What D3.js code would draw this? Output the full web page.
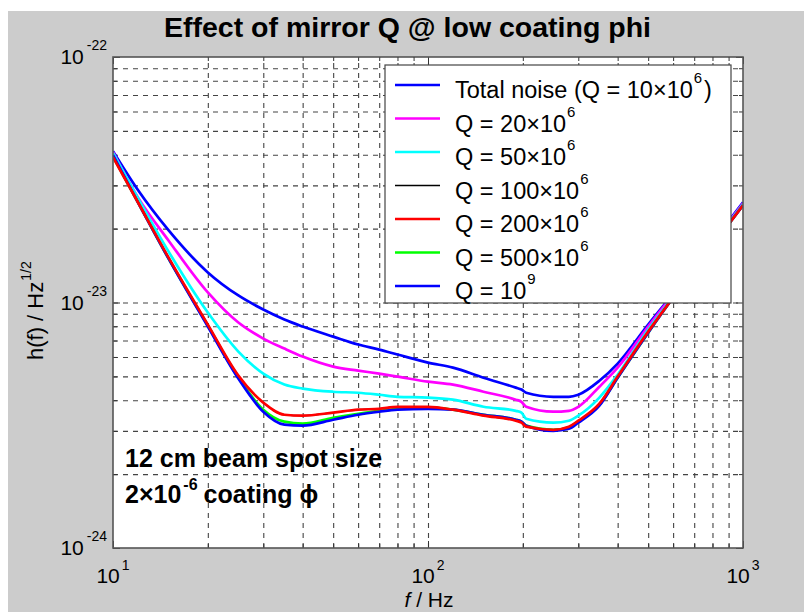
<!DOCTYPE html>
<html><head><meta charset="utf-8">
<script src="https://cdn.jsdelivr.net/npm/d3@7"></script>
<style>
body{margin:0;background:#fff}
svg{display:block}
text{font-family:"Liberation Sans",Arial,Helvetica,sans-serif;fill:#000}
</style></head>
<body><svg id="c" width="804" height="612"></svg>
<script>
// ---------- data ----------
const freq = [10,12,15,20,25,30,35,40,50,60,70,80,100,120,150,190,198,205,250,280,300,350,400,500,600,700,800,1000];
const totalNoise = [4.13e-23,2.87e-23,1.97e-23,1.326e-23,1.068e-23,9.36e-24,8.52e-24,7.98e-24,7.26e-24,6.74e-24,6.43e-24,6.14e-24,5.69e-24,5.43e-24,4.94e-24,4.50e-24,4.42e-24,4.29e-24,4.13e-24,4.13e-24,4.21e-24,4.80e-24,5.64e-24,8.13e-24,1.088e-23,1.403e-23,1.758e-23,2.56e-23];
const q20 = [4.10e-23,2.68e-23,1.79e-23,1.099e-23,8.29e-24,7.13e-24,6.49e-24,6.02e-24,5.48e-24,5.28e-24,5.13e-24,4.99e-24,4.76e-24,4.63e-24,4.33e-24,4.02e-24,3.94e-24,3.76e-24,3.59e-24,3.62e-24,3.76e-24,4.54e-24,5.43e-24,7.98e-24,1.078e-23,1.39e-23,1.741e-23,2.536e-23];
const q50 = [4.06e-23,2.66e-23,1.615e-23,9.10e-24,6.31e-24,5.13e-24,4.63e-24,4.46e-24,4.33e-24,4.29e-24,4.21e-24,4.13e-24,4.10e-24,4.02e-24,3.76e-24,3.62e-24,3.56e-24,3.36e-24,3.24e-24,3.30e-24,3.46e-24,4.10e-24,5.08e-24,7.76e-24,1.058e-23,1.377e-23,1.725e-23,2.512e-23];
const q100 = [3.91e-23,2.56e-23,1.527e-23,8.13e-24,5.04e-24,3.91e-24,3.49e-24,3.46e-24,3.56e-24,3.66e-24,3.69e-24,3.76e-24,3.76e-24,3.66e-24,3.46e-24,3.30e-24,3.24e-24,3.12e-24,3.03e-24,3.12e-24,3.30e-24,3.87e-24,4.99e-24,7.61e-24,1.048e-23,1.364e-23,1.709e-23,2.488e-23];
const q200 = [3.91e-23,2.56e-23,1.527e-23,8.13e-24,5.04e-24,3.91e-24,3.49e-24,3.46e-24,3.56e-24,3.66e-24,3.69e-24,3.76e-24,3.76e-24,3.66e-24,3.46e-24,3.30e-24,3.24e-24,3.12e-24,3.03e-24,3.12e-24,3.30e-24,3.87e-24,4.99e-24,7.61e-24,1.048e-23,1.364e-23,1.709e-23,2.488e-23];
const q500 = [3.94e-23,2.56e-23,1.512e-23,8.06e-24,4.94e-24,3.66e-24,3.27e-24,3.21e-24,3.39e-24,3.52e-24,3.62e-24,3.69e-24,3.73e-24,3.66e-24,3.49e-24,3.33e-24,3.27e-24,3.15e-24,3.03e-24,3.09e-24,3.27e-24,3.83e-24,4.94e-24,7.54e-24,1.048e-23,1.364e-23,1.709e-23,2.488e-23];
const q1e9 = [3.98e-23,2.56e-23,1.512e-23,7.98e-24,4.90e-24,3.59e-24,3.18e-24,3.15e-24,3.33e-24,3.49e-24,3.59e-24,3.66e-24,3.69e-24,3.66e-24,3.49e-24,3.33e-24,3.27e-24,3.15e-24,3.00e-24,3.06e-24,3.24e-24,3.80e-24,4.94e-24,7.54e-24,1.048e-23,1.364e-23,1.709e-23,2.488e-23];

const legendLabels = [
  ["Total noise (Q = 10\u00d710","6",")"],
  ["Q = 20\u00d710","6",""],
  ["Q = 50\u00d710","6",""],
  ["Q = 100\u00d710","6",""],
  ["Q = 200\u00d710","6",""],
  ["Q = 500\u00d710","6",""],
  ["Q = 10","9",""]
];
const xMajor = [10,100,1000];
const xMajorExp = ["1","2","3"];
const yMajor = [1e-24,1e-23,1e-22];
const yMajorExp = ["-24","-23","-22"];
const xMinor = [20,30,40,50,60,70,80,90,200,300,400,500,600,700,800,900];
const yMinor = [2e-24,3e-24,4e-24,5e-24,6e-24,7e-24,8e-24,9e-24,2e-23,3e-23,4e-23,5e-23,6e-23,7e-23,8e-23,9e-23];
const titleText = "Effect of mirror Q @ low coating phi";

// ---------- styles ----------
const seriesData = [totalNoise,q20,q50,q100,q200,q500,q1e9];
const seriesColor = ["#0000ff","#ff00ff","#00ffff","#000000","#ff0000","#00ff00","#0000ff"];
const seriesWidth = [2.7,2.7,2.7,1.4,2.7,2.7,2.7];
const drawOrder = [0,1,2,3,5,6,4];

const W=804,H=612;
const L=113,R=743,T=57,B=548;
const svg=d3.select('#c');
svg.append('rect').attr('width',W).attr('height',H).attr('fill','#fff');
svg.append('rect').attr('x',8).attr('y',11).attr('width',W-8).attr('height',H-11).attr('fill','#cccccc');
svg.append('rect').attr('x',L).attr('y',T).attr('width',R-L).attr('height',B-T).attr('fill','#fff');

const x=d3.scaleLog().domain([10,1000]).range([L,R]);
const y=d3.scaleLog().domain([1e-24,1e-22]).range([B,T]);

// grid
const gx=svg.append('g').attr('transform',`translate(0,${B})`)
  .call(d3.axisBottom(x).tickValues(xMinor.concat([100])).tickSize(-(B-T)).tickFormat(''));
gx.select('.domain').remove();
gx.selectAll('line').attr('stroke','#444').attr('stroke-width',1.1).attr('stroke-dasharray','5,5');
const gy=svg.append('g').attr('transform',`translate(${L},0)`)
  .call(d3.axisLeft(y).tickValues(yMinor.concat([1e-23])).tickSize(-(R-L)).tickFormat(''));
gy.select('.domain').remove();
gy.selectAll('line').attr('stroke','#444').attr('stroke-width',1.1).attr('stroke-dasharray','5,5');

// ticks on all sides (inward)
function ticks(axisFn, vals, size, tr){
  const g=svg.append('g').attr('transform',tr).call(axisFn.tickValues(vals).tickSize(-size).tickFormat(''));
  g.select('.domain').remove();
  g.selectAll('line').attr('stroke','#333').attr('stroke-width',1);
}
ticks(d3.axisBottom(x),xMajor,7,`translate(0,${B})`);
ticks(d3.axisBottom(x),xMinor,4,`translate(0,${B})`);
ticks(d3.axisTop(x),xMajor,7,`translate(0,${T})`);
ticks(d3.axisTop(x),xMinor,4,`translate(0,${T})`);
ticks(d3.axisLeft(y),yMajor,7,`translate(${L},0)`);
ticks(d3.axisLeft(y),yMinor,4,`translate(${L},0)`);
ticks(d3.axisRight(y),yMajor,7,`translate(${R},0)`);
ticks(d3.axisRight(y),yMinor,4,`translate(${R},0)`);

// curves
svg.append('clipPath').attr('id','clip').append('rect').attr('x',L).attr('y',T).attr('width',R-L).attr('height',B-T);
const line=d3.line().x(d=>x(d[0])).y(d=>y(d[1])).curve(d3.curveMonotoneX);
const cg=svg.append('g').attr('clip-path','url(#clip)');
drawOrder.forEach(i=>{
  cg.append('path').datum(freq.map((f,k)=>[f,seriesData[i][k]]))
    .attr('d',line).attr('fill','none').attr('stroke',seriesColor[i])
    .attr('stroke-width',seriesWidth[i]).attr('stroke-linejoin','round');
});

// axis box
svg.append('rect').attr('x',L).attr('y',T).attr('width',R-L).attr('height',B-T)
  .attr('fill','none').attr('stroke','#555').attr('stroke-width',1.6);

// tick labels
xMajor.forEach((v,i)=>{
  const t=svg.append('text').attr('x',x(v)).attr('y',583).attr('text-anchor','middle').attr('font-size',21);
  t.append('tspan').text('10');
  t.append('tspan').attr('dx',2).attr('dy',-13).attr('font-size',14).text(xMajorExp[i]);
});
yMajor.forEach((v,i)=>{
  const t=svg.append('text').attr('x',107).attr('y',y(v)+7).attr('text-anchor','end').attr('font-size',21);
  t.append('tspan').text('10');
  t.append('tspan').attr('dx',3).attr('dy',-14).attr('font-size',14).text(yMajorExp[i]);
});

// title
svg.append('text').attr('x',407.5).attr('y',37).attr('text-anchor','middle')
  .attr('font-size',28.5).attr('font-weight','bold').text(titleText);

// axis labels
const yl=svg.append('text').attr('transform','translate(43,360) rotate(-90)').attr('font-size',22);
yl.append('tspan').text('h(f) / Hz');
yl.append('tspan').attr('dy',-12).attr('dx',1).attr('font-size',14).text('1/2');
const xl=svg.append('text').attr('x',429).attr('y',607).attr('text-anchor','middle').attr('font-size',21);
xl.append('tspan').attr('font-style','italic').text('f');
xl.append('tspan').text(' / Hz');

// annotation
svg.append('text').attr('x',125).attr('y',467).attr('font-size',25).attr('font-weight','bold').text('12 cm beam spot size');
const an=svg.append('text').attr('x',125).attr('y',503).attr('font-size',25).attr('font-weight','bold');
an.append('tspan').text('2\u00d710');
an.append('tspan').attr('dx',2).attr('dy',-13).attr('font-size',16).text('-6');
an.append('tspan').attr('dy',13).attr('dx',6).text('coating \u03d5');

// legend
const lg=svg.append('g');
lg.append('rect').attr('x',385).attr('y',65).attr('width',346).attr('height',238)
  .attr('fill','#fff').attr('stroke','#444').attr('stroke-width',1.2);
legendLabels.forEach((lab,i)=>{
  const ly=85+i*33.5;
  lg.append('line').attr('x1',395).attr('x2',440).attr('y1',ly).attr('y2',ly)
    .attr('stroke',seriesColor[i]).attr('stroke-width',seriesWidth[i]);
  const t=lg.append('text').attr('x',455).attr('y',ly+13).attr('font-size',23.5);
  t.append('tspan').text(lab[0]);
  t.append('tspan').attr('dx',1).attr('dy',-15).attr('font-size',15).text(lab[1]);
  if(lab[2]) t.append('tspan').attr('dy',15).attr('dx',2).text(lab[2]);
});
</script></body></html>
